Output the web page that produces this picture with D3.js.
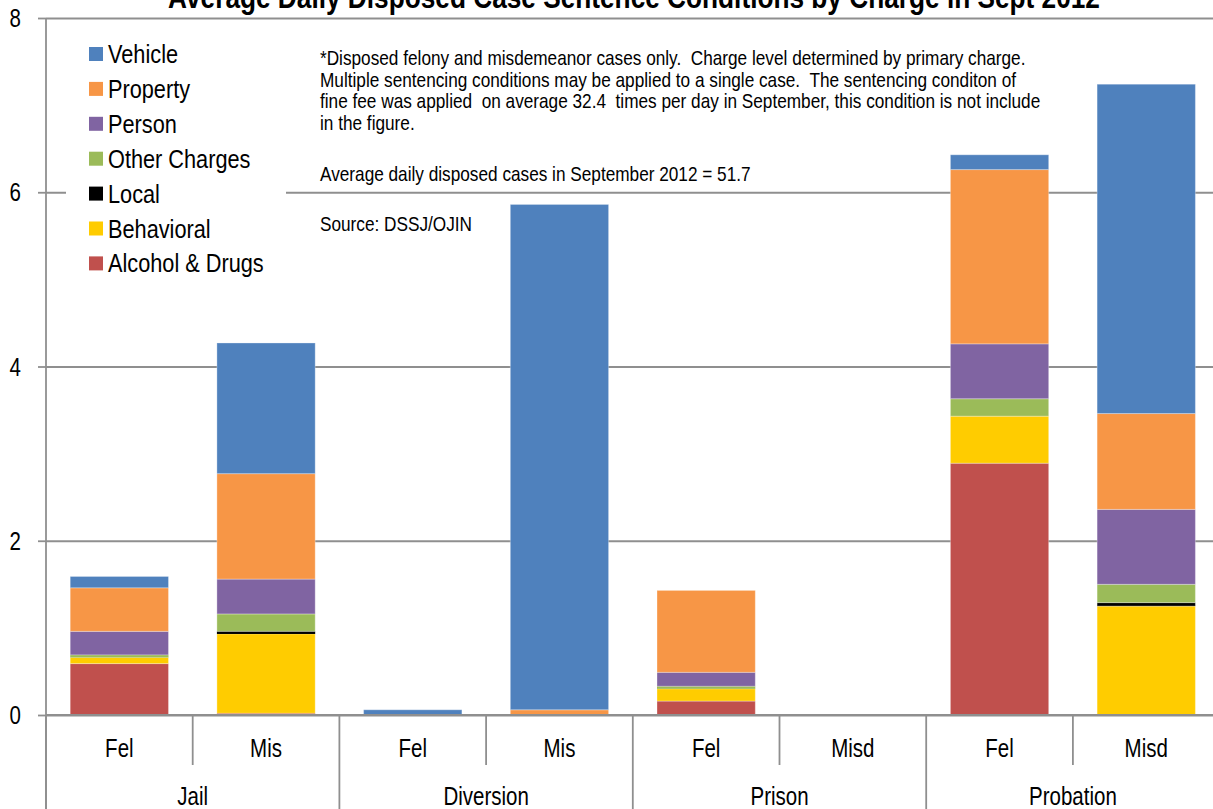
<!DOCTYPE html>
<html>
<head>
<meta charset="utf-8">
<script src="https://cdn.jsdelivr.net/npm/d3@7"></script>
<style>
  body { margin: 0; background: #fff; }
  svg text { font-family: "Liberation Sans", Arial, sans-serif; fill: #000; }
</style>
</head>
<body>
<div id="chart"></div>
<script>
// categories along the x axis (sub label + group label)
var subLabels   = ["Fel", "Mis", "Fel", "Mis", "Fel", "Misd", "Fel", "Misd"];
var groupLabels = ["Jail", "Diversion", "Prison", "Probation"];

// series values, one per category (stacked bottom to top)
var alcoholDrugs = [0.59, 0.02, 0.00, 0.00, 0.16, 0, 2.89, 0.00];
var behavioral   = [0.07, 0.91, 0.00, 0.00, 0.14, 0, 0.54, 1.25];
var local        = [0.00, 0.03, 0.00, 0.00, 0.00, 0, 0.00, 0.04];
var otherCharges = [0.03, 0.20, 0.00, 0.00, 0.03, 0, 0.20, 0.21];
var person       = [0.27, 0.40, 0.00, 0.00, 0.16, 0, 0.63, 0.86];
var property     = [0.50, 1.21, 0.00, 0.06, 0.94, 0, 2.00, 1.10];
var vehicle      = [0.13, 1.50, 0.06, 5.80, 0.00, 0, 0.17, 3.78];

var yTicks = [0, 2, 4, 6, 8];

var seriesNames  = ["Alcohol & Drugs", "Behavioral", "Local", "Other Charges", "Person", "Property", "Vehicle"];
var seriesValues = [alcoholDrugs, behavioral, local, otherCharges, person, property, vehicle];
var seriesColors = ["#C0504D", "#FFCC00", "#000000", "#9BBB59", "#8064A2", "#F79646", "#4F81BD"];

var notes = [
    "*Disposed felony and misdemeanor cases only.  Charge level determined by primary charge.",
    "Multiple sentencing conditions may be applied to a single case.  The sentencing conditon of",
    "fine fee was applied  on average 32.4  times per day in September, this condition is not include",
    "in the figure."
];

var width = 1213, height = 809;
var plotLeft = 46, plotRight = 1219.6, plotTop = 18, plotBottom = 715;
var narrow = 0.82;  // squeeze text sideways, no narrow font installed

// puts a text at (px, py) and squeezes it
function squeeze(px, py) {
    return "translate(" + px + "," + py + ") scale(" + narrow + ",1)";
}

var svg = d3.select("#chart").append("svg")
    .attr("width", width)
    .attr("height", height);

// build rows for the stack
var keys = subLabels.map(function(d, i) { return i; });
var rows = keys.map(function(i) {
    var r = { idx: i };
    seriesNames.forEach(function(s, j) { r[s] = seriesValues[j][i]; });
    return r;
});
var stacked = d3.stack().keys(seriesNames)(rows);

// scales
var x = d3.scaleBand()
    .domain(keys)
    .range([plotLeft, plotRight])
    .paddingInner(0.33)
    .paddingOuter(0.165);
var y = d3.scaleLinear()
    .domain([0, 8])
    .range([plotBottom, plotTop]);

// gridlines
var yAxis = svg.append("g")
    .attr("transform", "translate(" + plotLeft + ",0)")
    .call(d3.axisLeft(y).tickValues(yTicks).tickSize(-(width - plotLeft + 10)).tickFormat(""));
yAxis.select(".domain").remove();
yAxis.selectAll(".tick line")
    .attr("stroke", "#8f8f8f")
    .attr("stroke-width", 1.8);

// small outside ticks
var yAxisOut = svg.append("g")
    .attr("transform", "translate(" + plotLeft + ",0)")
    .call(d3.axisLeft(y).tickValues(yTicks).tickSize(8).tickFormat(""));
yAxisOut.select(".domain").remove();
yAxisOut.selectAll(".tick line")
    .attr("stroke", "#8f8f8f")
    .attr("stroke-width", 1.8);

// y labels
svg.selectAll(".ylab")
    .data(yTicks)
    .enter().append("text")
    .attr("transform", function(d) { return squeeze(21, y(d) + 9); })
    .attr("text-anchor", "end")
    .attr("font-size", 25)
    .text(function(d) { return d; });

// left axis line runs to the bottom of the picture
svg.append("line")
    .attr("x1", plotLeft).attr("x2", plotLeft)
    .attr("y1", plotTop).attr("y2", height)
    .attr("stroke", "#8f8f8f")
    .attr("stroke-width", 1.8);

// legend box hides the gridline behind it
svg.append("rect")
    .attr("x", 66).attr("y", 35)
    .attr("width", 220).attr("height", 250)
    .attr("fill", "#fff");

// bars
var layer = svg.selectAll(".layer")
    .data(stacked)
    .enter().append("g")
    .attr("class", "layer")
    .attr("fill", function(d, i) { return seriesColors[i]; });

layer.selectAll("rect")
    .data(function(d) { return d; })
    .enter().append("rect")
    .attr("x", function(d) { return x(d.data.idx); })
    .attr("width", x.bandwidth())
    .attr("y", function(d) { return y(d[1]); })
    .attr("height", function(d) { return y(d[0]) - y(d[1]); })
    .attr("stroke", "#fff")
    .attr("stroke-opacity", function(d) { return (y(d[0]) - y(d[1])) > 3 ? 0.3 : 0; })
    .attr("stroke-width", 1);

// x axis: baseline, ticks, two rows of labels
var xg = svg.append("g").attr("stroke", "#8f8f8f").attr("stroke-width", 1.8);
xg.append("line")
    .attr("x1", plotLeft).attr("x2", width)
    .attr("y1", plotBottom).attr("y2", plotBottom);

var step = x.step();
var bounds = d3.range(subLabels.length + 1);
xg.selectAll(".sep")
    .data(bounds)
    .enter().append("line")
    .attr("x1", function(d) { return plotLeft + d * step; })
    .attr("x2", function(d) { return plotLeft + d * step; })
    .attr("y1", plotBottom)
    .attr("y2", function(d) { return d % 2 === 0 ? height : 765; });

svg.selectAll(".sub")
    .data(subLabels)
    .enter().append("text")
    .attr("transform", function(d, i) { return squeeze(x(i) + x.bandwidth() / 2, 757); })
    .attr("text-anchor", "middle")
    .attr("font-size", 25)
    .text(function(d) { return d; });

svg.selectAll(".grp")
    .data(groupLabels)
    .enter().append("text")
    .attr("transform", function(d, i) { return squeeze(plotLeft + (2 * i + 1) * step, 805); })
    .attr("text-anchor", "middle")
    .attr("font-size", 25)
    .text(function(d) { return d; });

// legend, top to bottom is reverse of stacking order
var legendItems = seriesNames.map(function(d, i) { return { name: d, color: seriesColors[i] }; }).reverse();
var lg = svg.selectAll(".legend")
    .data(legendItems)
    .enter().append("g")
    .attr("transform", function(d, i) { return "translate(89," + (54 + i * 34.9) + ")"; });
lg.append("rect")
    .attr("x", 0).attr("y", -7)
    .attr("width", 14).attr("height", 14)
    .attr("fill", function(d) { return d.color; });
lg.append("text")
    .attr("transform", squeeze(19, 9))
    .attr("font-size", 26.5)
    .text(function(d) { return d.name; });

// notes
svg.selectAll(".note")
    .data(notes)
    .enter().append("text")
    .attr("transform", function(d, i) { return squeeze(320, 65 + i * 21.7); })
    .attr("font-size", 21)
    .style("white-space", "pre")
    .text(function(d) { return d; });

svg.append("text")
    .attr("transform", squeeze(320, 181))
    .attr("font-size", 21)
    .text("Average daily disposed cases in September 2012 = 51.7");

svg.append("text")
    .attr("transform", squeeze(320, 231))
    .attr("font-size", 21)
    .text("Source: DSSJ/OJIN");

// title, cut off at the top as in the original
svg.append("text")
    .attr("transform", squeeze(634, 8))
    .attr("text-anchor", "middle")
    .attr("font-size", 32)
    .attr("font-weight", "bold")
    .text("Average Daily Disposed Case Sentence Conditions by Charge in Sept 2012");
</script>
</body>
</html>
